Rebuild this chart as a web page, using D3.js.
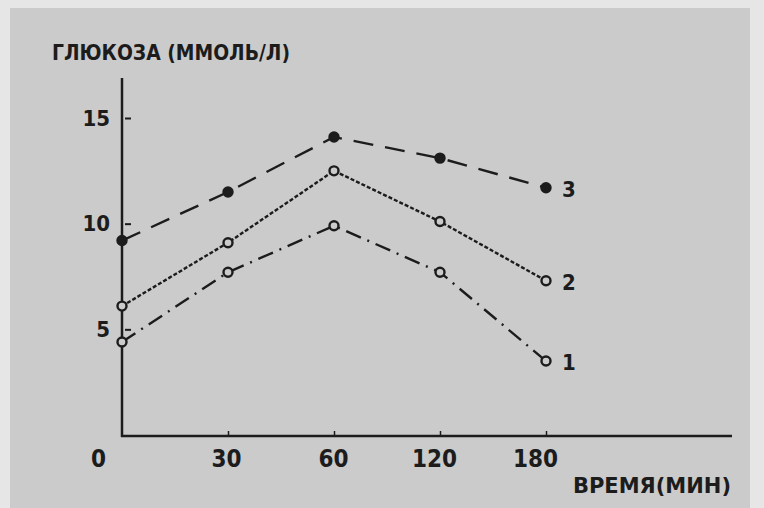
<!DOCTYPE html>
<html>
<head>
<meta charset="utf-8">
<script src="https://cdn.jsdelivr.net/npm/d3@7"></script>
<style>
  body { margin: 0; background: #cbcbcb; }
  text { font-family: "DejaVu Sans Condensed", "Liberation Sans Narrow", "DejaVu Sans", sans-serif; fill: #1c1c1c; font-weight: bold; }
</style>
</head>
<body>
<div class="chart"></div>
<script>
// time points (min) and glucose values (mmol/l)
var times = ["0", "30", "60", "120", "180"];
var yTicks = [5, 10, 15];
var series1 = [4.4, 7.7, 9.9, 7.7, 3.5];
var series2 = [6.1, 9.1, 12.5, 10.1, 7.3];
var series3 = [9.2, 11.5, 14.1, 13.1, 11.7];
var seriesNames = ["1", "2", "3"];

var svgWidth = 764;
var svgHeight = 508;

var svg = d3.select(".chart")
  .append("svg")
  .attr("width", svgWidth)
  .attr("height", svgHeight);

// paper
svg.append("rect")
  .attr("width", svgWidth).attr("height", svgHeight)
  .attr("fill", "#e6e6e6");
svg.append("rect")
  .attr("x", 10).attr("y", 8)
  .attr("width", 740).attr("height", svgHeight - 8)
  .attr("fill", "#cbcbcb");

var xScale = d3.scalePoint()
  .domain(times)
  .range([122, 546]);

var yScale = d3.scaleLinear()
  .domain([0, 15])
  .range([435, 118]);

var chartGroup = svg.append("g");

// axes lines
chartGroup.append("line")
  .attr("x1", 122).attr("x2", 122)
  .attr("y1", 78).attr("y2", yScale(0) + 2)
  .attr("stroke", "#1c1c1c").attr("stroke-width", 2.5);
chartGroup.append("line")
  .attr("x1", 121).attr("x2", 732)
  .attr("y1", yScale(0) + 1).attr("y2", yScale(0) + 1)
  .attr("stroke", "#1c1c1c").attr("stroke-width", 2.5);

// y axis ticks
var leftAxis = d3.axisLeft(yScale)
  .tickValues(yTicks)
  .tickSizeInner(-9)
  .tickSizeOuter(0)
  .tickPadding(12);

var yAxisG = chartGroup.append("g")
  .attr("transform", "translate(122,0)")
  .call(leftAxis);
yAxisG.select(".domain").remove();
yAxisG.selectAll(".tick line")
  .attr("x1", 3)
  .attr("stroke", "#1c1c1c").attr("stroke-width", 2);
yAxisG.selectAll(".tick text")
  .attr("font-size", 22)
  .attr("fill", "#1c1c1c");

// x axis ticks
var bottomAxis = d3.axisBottom(xScale)
  .tickSizeInner(-5)
  .tickSizeOuter(0)
  .tickPadding(14);

var xAxisG = chartGroup.append("g")
  .attr("transform", `translate(0, ${yScale(0) + 1})`)
  .call(bottomAxis);
xAxisG.select(".domain").remove();
xAxisG.selectAll(".tick line")
  .attr("stroke", "#1c1c1c").attr("stroke-width", 1.5)
  .attr("opacity", d => d === "0" ? 0 : 1);
var labelShift = { "0": -24, "30": -2, "60": -1, "120": -6, "180": -11 };
xAxisG.selectAll(".tick text")
  .attr("font-size", 24)
  .attr("fill", "#1c1c1c")
  .attr("dx", d => labelShift[d]);

// series lines
var allSeries = [
  { name: seriesNames[0], values: series1, dash: "16,7,2,7", marker: "open" },
  { name: seriesNames[1], values: series2, dash: "4,2", marker: "open" },
  { name: seriesNames[2], values: series3, dash: "20,12", marker: "filled" }
];

var line = d3.line()
  .x((d, i) => xScale(times[i]))
  .y(d => yScale(d));

allSeries.forEach(function(s) {
  chartGroup.append("path")
    .datum(s.values)
    .attr("d", line)
    .attr("fill", "none")
    .attr("stroke", "#1c1c1c")
    .attr("stroke-width", 2.4)
    .attr("stroke-dasharray", s.dash);

  chartGroup.selectAll(null)
    .data(s.values)
    .enter()
    .append("circle")
    .attr("cx", (d, i) => xScale(times[i]))
    .attr("cy", d => yScale(d))
    .attr("r", 4.5)
    .attr("fill", s.marker === "filled" ? "#1c1c1c" : "#cbcbcb")
    .attr("stroke", "#1c1c1c")
    .attr("stroke-width", 2.4);

  var last = s.values[s.values.length - 1];
  chartGroup.append("text")
    .attr("x", xScale(times[times.length - 1]) + 16)
    .attr("y", yScale(last) + 9)
    .attr("font-size", 22)
    .text(s.name);
});

// titles
svg.append("text")
  .attr("x", 52).attr("y", 60)
  .attr("font-size", 21)
  .attr("textLength", 238)
  .attr("lengthAdjust", "spacingAndGlyphs")
  .text("ГЛЮКОЗА (ММОЛЬ/Л)");

svg.append("text")
  .attr("x", 573).attr("y", 493)
  .attr("font-size", 22)
  .attr("textLength", 158)
  .attr("lengthAdjust", "spacingAndGlyphs")
  .text("ВРЕМЯ(МИН)");
</script>
</body>
</html>
